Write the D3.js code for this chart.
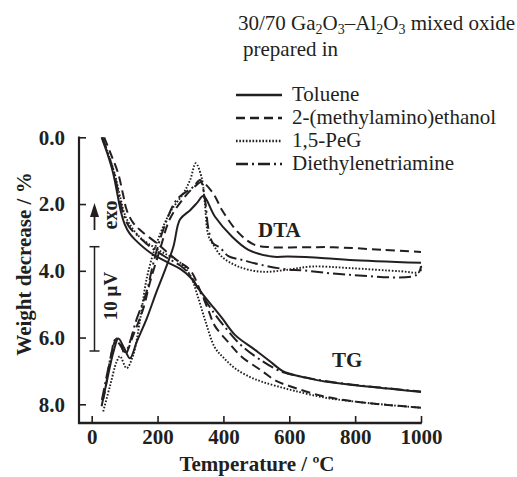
<!DOCTYPE html>
<html><head><meta charset="utf-8">
<script src="https://cdn.jsdelivr.net/npm/d3@7"></script>
<style>
html,body{margin:0;padding:0;background:#fff;}
svg{display:block;}
text{font-family:"Liberation Serif","Times New Roman",serif;fill:#231f20;}
</style></head>
<body>
<svg id="chart" width="517" height="477"></svg>
<script>
// ---------- data ----------
const seriesNames = ["Toluene", "2-(methylamino)ethanol", "1,5-PeG", "Diethylenetriamine"];
const xTicks = [0, 200, 400, 600, 800, 1000];
const yTicks = [0, 2, 4, 6, 8];
const yTickLabels = ["0.0", "2.0", "4.0", "6.0", "8.0"];

// TG: [temperature °C, weight decrease %]
const tgToluene = [[30,0],[48,0.5],[65,1.07],[78,1.7],[88,2.2],[100,2.6],[115,2.88],[130,3.05],[177,3.45],[229,3.74],[270,3.95],[300,4.2],[329,4.6],[360,4.98],[396,5.42],[435,5.92],[496,6.37],[540,6.7],[566,6.91],[587,7.04],[650,7.2],[708,7.32],[800,7.43],[900,7.53],[1000,7.63]];
const tgMAE = [[38,0],[58,0.5],[80,1.07],[95,1.7],[106,2.17],[125,2.55],[147,2.78],[197,3.17],[258,3.68],[299,3.98],[330,4.6],[355,5.2],[374,5.65],[414,6.13],[456,6.58],[517,7.0],[560,7.3],[600,7.45],[700,7.75],[800,7.92],[900,8.02],[1000,8.1]];
const tgPeG = [[33,0],[52,0.55],[70,1.1],[88,1.85],[100,2.3],[115,2.6],[147,3.0],[207,3.4],[268,3.75],[300,4.15],[320,4.7],[345,5.5],[374,6.3],[400,6.6],[435,6.92],[480,7.18],[516,7.32],[560,7.45],[617,7.6],[708,7.8],[800,7.92],[900,8.02],[1000,8.1]];
const tgDETA = [[32,0],[52,0.55],[70,1.15],[85,1.85],[98,2.35],[115,2.7],[140,2.95],[180,3.3],[230,3.62],[270,3.85],[300,4.15],[330,4.65],[374,5.3],[414,5.8],[456,6.25],[517,6.7],[560,6.95],[585,7.05],[650,7.2],[708,7.3],[800,7.42],[900,7.52],[1000,7.62]];

// DTA: [temperature °C, signal µV (relative)]
const dtaToluene = [[30,-5.3],[50,-2.3],[66,-0.1],[81,1.2],[98,0.3],[116,-0.7],[137,0.9],[167,3.1],[197,5.7],[217,7.3],[248,10.0],[268,12.6],[299,13.5],[320,14.2],[339,14.85],[374,12.9],[425,11.0],[476,9.7],[547,9.05],[597,9.05],[708,8.9],[784,8.72],[1000,8.45]];
const dtaMAE = [[34,-4.7],[40,-3.9],[61,-0.1],[76,1.2],[90,0.5],[101,-0.35],[126,1.5],[157,4.1],[177,6.6],[207,9.7],[238,12.7],[283,14.8],[314,15.8],[334,16.2],[369,15.1],[396,13.5],[444,11.4],[490,10.25],[542,9.95],[650,9.95],[733,9.95],[885,9.7],[1000,9.5]];
const dtaPeG = [[35,-5.8],[56,-3.3],[76,-1.0],[86,-0.5],[106,-1.65],[126,-0.4],[147,3.0],[168,7.1],[197,10.3],[238,13.3],[278,15.1],[299,16.4],[316,18.0],[334,16.6],[344,14.0],[354,11.1],[369,10.2],[395,9.05],[445,8.1],[516,7.6],[597,7.8],[668,8.1],[784,7.95],[936,7.65],[997,7.6],[1000,8.3]];
const dtaDETA = [[31,-4.7],[43,-2.8],[59,-0.4],[71,1.05],[86,0.6],[101,-0.1],[137,3.1],[167,5.7],[187,8.4],[217,11.6],[258,14.5],[309,15.75],[329,16.4],[344,14.5],[354,11.8],[368,10.35],[390,9.9],[415,9.1],[460,8.7],[516,8.25],[597,7.8],[633,7.75],[784,7.3],[987,7.3],[1000,8.1]];

const scaleBarUV = [0, 10];

// ---------- styles ----------
const dashes = [null, "9,5", "1.6,1.7", "12,4,2,4"];
const widths = [2, 2, 1.9, 2];
const ink = "#231f20";

const svg = d3.select("#chart");
const x = d3.scaleLinear().domain([0, 1000]).range([91.7, 421]);
const y = d3.scaleLinear().domain([0, 8]).range([137.3, 404.3]);
const yDTA = d3.scaleLinear().domain([0, 10]).range([351, 246.7]);
const axisLeftX = 79, axisBottomY = 423;

const tgLine = d3.line().x(d => x(d[0])).y(d => y(d[1])).curve(d3.curveCatmullRom.alpha(0.5));
const dtaLine = d3.line().x(d => x(d[0])).y(d => yDTA(d[1])).curve(d3.curveCatmullRom.alpha(0.5));

const tgData = [tgToluene, tgMAE, tgPeG, tgDETA];
const dtaData = [dtaToluene, dtaMAE, dtaPeG, dtaDETA];

// axes
const gx = svg.append("g").attr("transform", `translate(0,${axisBottomY})`)
  .call(d3.axisBottom(x).tickValues(xTicks).tickSize(-7).tickSizeOuter(0).tickPadding(6).tickFormat(d3.format("d")));
gx.select(".domain").remove();
gx.selectAll(".tick line").attr("stroke", ink).attr("stroke-width", 1.6);
gx.selectAll(".tick text").attr("font-family", "Liberation Serif").attr("font-weight", "bold")
  .attr("font-size", 21).attr("fill", ink).attr("dy", "0.71em");

const gy = svg.append("g").attr("transform", `translate(${axisLeftX},0)`)
  .call(d3.axisLeft(y).tickValues(yTicks).tickSize(-7).tickSizeOuter(0).tickPadding(14).tickFormat((d, i) => yTickLabels[i]));
gy.select(".domain").remove();
gy.selectAll(".tick line").attr("stroke", ink).attr("stroke-width", 1.6);
gy.selectAll(".tick text").attr("font-family", "Liberation Serif").attr("font-weight", "bold")
  .attr("font-size", 21).attr("fill", ink);

svg.append("line").attr("x1", axisLeftX).attr("x2", axisLeftX).attr("y1", y(0) - 0.8).attr("y2", axisBottomY + 1)
  .attr("stroke", ink).attr("stroke-width", 2.2);
svg.append("line").attr("x1", axisLeftX - 1).attr("x2", x(1000) + 0.8).attr("y1", axisBottomY).attr("y2", axisBottomY)
  .attr("stroke", ink).attr("stroke-width", 2.4);

// curves
[dtaData, tgData].forEach((set, k) => {
  set.forEach((data, i) => {
    svg.append("path").datum(data)
      .attr("d", k === 0 ? dtaLine : tgLine)
      .attr("fill", "none").attr("stroke", ink)
      .attr("stroke-width", widths[i])
      .attr("stroke-dasharray", dashes[i])
      .attr("stroke-linejoin", "round");
  });
});

// scale bar (10 µV)
const sbx = 94.5;
svg.append("line").attr("x1", sbx).attr("x2", sbx).attr("y1", yDTA(scaleBarUV[0])).attr("y2", yDTA(scaleBarUV[1]))
  .attr("stroke", ink).attr("stroke-width", 1.5);
scaleBarUV.forEach(v => svg.append("line").attr("x1", sbx - 5).attr("x2", sbx + 5)
  .attr("y1", yDTA(v)).attr("y2", yDTA(v)).attr("stroke", ink).attr("stroke-width", 1.5));
svg.append("text").attr("transform", `translate(117,296) rotate(-90)`).attr("text-anchor", "middle")
  .attr("font-weight", "bold").attr("font-size", 19).text("10 μV");

// exo arrow
svg.append("line").attr("x1", sbx).attr("x2", sbx).attr("y1", 230).attr("y2", 212)
  .attr("stroke", ink).attr("stroke-width", 1.8);
svg.append("path").attr("d", `M${sbx},203 L${sbx - 4.5},217 L${sbx + 4.5},217 Z`).attr("fill", ink);
svg.append("text").attr("transform", `translate(117,215) rotate(-90)`).attr("text-anchor", "middle")
  .attr("font-weight", "bold").attr("font-size", 20).text("exo");

// labels
svg.append("text").attr("x", 258).attr("y", 237).attr("font-weight", "bold").attr("font-size", 21).text("DTA");
svg.append("text").attr("x", 332).attr("y", 367).attr("font-weight", "bold").attr("font-size", 21).text("TG");

svg.append("text").attr("x", 257).attr("y", 471).attr("text-anchor", "middle")
  .attr("font-weight", "bold").attr("font-size", 21).text("Temperature / ºC");
svg.append("text").attr("transform", "translate(31,264) rotate(-90)").attr("text-anchor", "middle")
  .attr("font-weight", "bold").attr("font-size", 21).text("Weight decrease  /  %");

// title
const t1 = svg.append("text").attr("x", 238).attr("y", 30).attr("font-size", 21);
const parts = [["30/70 Ga",0],["2",1],["O",0],["3",1],["–Al",0],["2",1],["O",0],["3",1],[" mixed oxide",0]];
let prevSub = 0;
parts.forEach(([s, sub]) => {
  const dy = sub && !prevSub ? 4 : (!sub && prevSub ? -4 : 0);
  t1.append("tspan").attr("dy", dy).attr("font-size", sub ? 14 : 21).text(s);
  prevSub = sub;
});
svg.append("text").attr("x", 243).attr("y", 56).attr("font-size", 21).text("prepared in");

// legend
seriesNames.forEach((name, i) => {
  const ly = 95 + i * 23;
  svg.append("line").attr("x1", 236).attr("x2", 282).attr("y1", ly).attr("y2", ly)
    .attr("stroke", ink).attr("stroke-width", 2.4).attr("stroke-dasharray", dashes[i]);
  svg.append("text").attr("x", 292).attr("y", ly + 6).attr("font-size", 21).text(name);
});
</script>
</body></html>
